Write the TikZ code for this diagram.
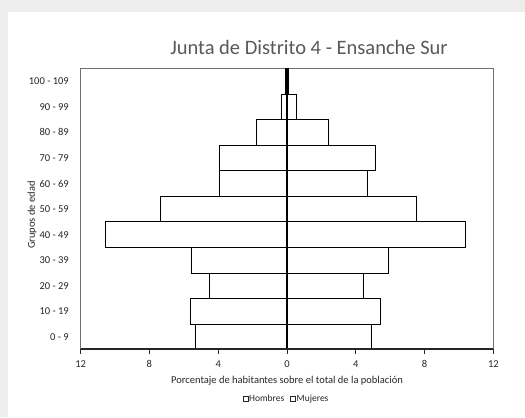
\documentclass[tikz,border=0pt]{standalone}
\usepackage{fontspec}
\setmainfont{Carlito}
\definecolor{bandgray}{HTML}{EDEDED}
\definecolor{titlegray}{HTML}{595959}
\definecolor{framegray}{HTML}{707070}
\definecolor{txt}{HTML}{262626}
\tikzset{
  bar/.style={draw=black, line width=0.9bp, fill=white},
  ylab/.style={anchor=east, inner sep=0pt, text=txt, font=\fontsize{10.5bp}{12bp}\selectfont},
  xlab/.style={anchor=center, inner sep=0pt, text=txt, font=\fontsize{10.5bp}{12bp}\selectfont},
  legtext/.style={anchor=base west, inner sep=0pt, text=txt, font=\fontsize{9.5bp}{11bp}\selectfont},
  legbox/.style={draw=txt, line width=0.7bp, fill=white, minimum width=5bp, minimum height=5bp, inner sep=0pt},
}
\begin{document}
\begin{tikzpicture}[x=1bp,y=-1bp]
\useasboundingbox (0,0) rectangle (525,417);
% background
\fill[bandgray] (0,0) rectangle (525,417);
\fill[white] (8,12) rectangle (525,417);
% title
\node[text=titlegray, inner sep=0pt, font=\fontsize{20.5bp}{24bp}\selectfont] (title) at (309,47) {Junta de Distrito 4 - Ensanche Sur};
% frame
\draw[framegray, line width=0.9bp] (80.6,348.8) -- (80.6,68.5) -- (493.4,68.5) -- (493.4,348.8);
% bars
\foreach \i/\lab/\h/\m in {0/100 - 109/0.07/0.07, 1/90 - 99/0.33/0.52, 2/80 - 89/1.78/2.40,
  3/70 - 79/3.94/5.13, 4/60 - 69/3.94/4.69, 5/50 - 59/7.37/7.52, 6/40 - 49/10.57/10.40,
  7/30 - 39/5.58/5.91, 8/20 - 29/4.53/4.44, 9/10 - 19/5.64/5.43, 10/0 - 9/5.33/4.92}
{
  \pgfmathsetmacro\yt{68.5+\i*25.57}
  \pgfmathsetmacro\yb{\yt+25.57}
  \pgfmathsetmacro\xl{287-\h*17.2}
  \pgfmathsetmacro\xr{287+\m*17.2}
  \pgfmathsetmacro\yc{\yt+12.8}
  \draw[bar] (\xl,\yt) rectangle (287,\yb);
  \draw[bar] (287,\yt) rectangle (\xr,\yb);
  \node[ylab] (lab\i) at (69,\yc) {\lab};
}
% centre line
\coordinate (ctop) at (287,68.5);
\coordinate (cbot) at (287,348.8);
\draw[black, line width=1.8bp] (ctop) -- (cbot);
% x axis
\coordinate (axl) at (80.6,348.8);
\coordinate (axr) at (493.4,348.8);
\draw[txt, line width=1.6bp] (axl) -- (axr);
\foreach \k/\v in {-3/12,-2/8,-1/4,0/0,1/4,2/8,3/12}
{
  \pgfmathsetmacro\tx{287+\k*68.8}
  \draw[txt, line width=1bp] (\tx,348.8) -- (\tx,353.5);
  \node[xlab] (tick\k) at (\tx,364) {\v};
}
\node[xlab] (xtitle) at (287,381) {Porcentaje de habitantes sobre el total de la población};
\node[xlab, rotate=90] (ytitle) at (32,215) {Grupos de edad};
% legend
\node[legbox] (hbox) at (245.5,398.4) {};
\node[legtext] (htext) at (249,401.5) {Hombres};
\node[legbox] (mbox) at (293,398.4) {};
\node[legtext] (mtext) at (296.5,401.5) {Mujeres};
\end{tikzpicture}
\end{document}
